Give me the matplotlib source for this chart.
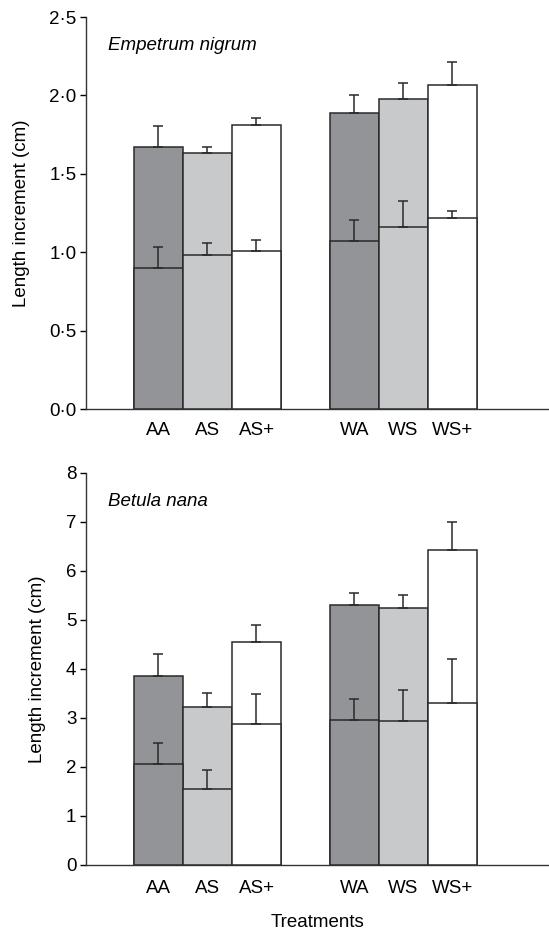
import numpy as np
import matplotlib
matplotlib.use("Agg")
import matplotlib.pyplot as plt
from matplotlib.ticker import FuncFormatter

plt.rcParams['font.family'] = ['Liberation Sans', 'DejaVu Sans']

treatments = ['AA', 'AS', 'AS+', 'WA', 'WS', 'WS+']
colores = ['#939498', '#c8c9cb', '#ffffff', '#939498', '#c8c9cb', '#ffffff']

# Empetrum nigrum
emp_total = [1.67, 1.635, 1.81, 1.89, 1.98, 2.065]
emp_total_err = [0.133, 0.034, 0.049, 0.113, 0.098, 0.147]
emp_lower = [0.90, 0.984, 1.01, 1.071, 1.161, 1.216]
emp_lower_err = [0.133, 0.073, 0.070, 0.136, 0.163, 0.047]

# Betula nana
bet_total = [3.85, 3.23, 4.55, 5.31, 5.24, 6.43]
bet_total_err = [0.46, 0.27, 0.34, 0.25, 0.28, 0.57]
bet_lower = [2.06, 1.55, 2.87, 2.96, 2.93, 3.30]
bet_lower_err = [0.43, 0.38, 0.62, 0.43, 0.64, 0.91]

x = np.array([0, 1, 2, 4, 5, 6])
edge = '#2a2a2a'
fs = 13.5


def dot_fmt(decimals):
    return FuncFormatter(lambda v, pos: f"{v:.{decimals}f}".replace('.', '\u00b7'))


def panel(ax, total, total_err, lower, lower_err, ymax, ticks, decimals, name, xpad):
    ax.bar(x, total, width=1.0, color=colores, edgecolor=edge, linewidth=1.1, zorder=2)
    ax.bar(x, lower, width=1.0, color=colores, edgecolor=edge, linewidth=1.1, zorder=3)
    zeros = np.zeros(len(x))
    ax.errorbar(x, total, yerr=[zeros, total_err], fmt='none', ecolor=edge,
                elinewidth=1.1, capsize=3.5, capthick=1.1, zorder=4)
    ax.errorbar(x, lower, yerr=[zeros, lower_err], fmt='none', ecolor=edge,
                elinewidth=1.1, capsize=3.5, capthick=1.1, zorder=4)
    ax.set_xlim(-1.48, 7.97)
    ax.set_ylim(0, ymax)
    ax.set_yticks(ticks)
    ax.yaxis.set_major_formatter(dot_fmt(decimals))
    ax.set_xticks(x)
    ax.set_xticklabels(treatments)
    ax.tick_params(axis='x', length=0, pad=xpad, labelsize=fs)
    ax.tick_params(axis='y', direction='out', length=4, width=1, labelsize=fs, pad=3)
    for s in ['top', 'right']:
        ax.spines[s].set_visible(False)
    for s in ['left', 'bottom']:
        ax.spines[s].set_linewidth(1.0)
        ax.spines[s].set_color('#333333')
    ax.set_ylabel('Length increment (cm)', fontsize=fs, labelpad=14)
    ax.text(0.047, 0.927, name, transform=ax.transAxes, fontsize=fs,
            style='italic', va='center', ha='left')


fig = plt.figure(figsize=(5.49, 9.30), dpi=100)
ax1 = fig.add_axes([0.1566, 0.5602, 0.8434, 0.4215])
ax2 = fig.add_axes([0.1566, 0.0699, 0.8434, 0.4215])

panel(ax1, emp_total, emp_total_err, emp_lower, emp_lower_err,
      2.5, np.arange(0, 2.51, 0.5), 1, 'Empetrum nigrum', 9)
panel(ax2, bet_total, bet_total_err, bet_lower, bet_lower_err,
      8, np.arange(0, 9, 1), 0, 'Betula nana', 11)
ax2.set_xlabel('Treatments', fontsize=fs, labelpad=12)

fig.savefig('out.png', dpi=100)
plt.close(fig)
